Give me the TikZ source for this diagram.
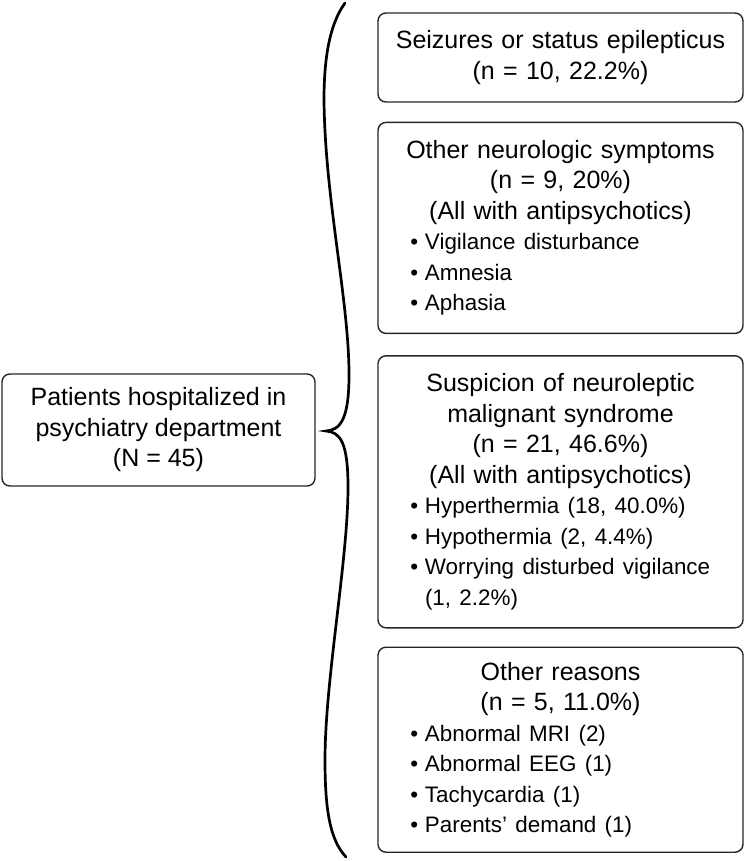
\documentclass[tikz,border=0pt]{standalone}
\usepackage{fontspec}
\setmainfont{Liberation Sans}
\usetikzlibrary{positioning}
\tikzset{
        box/.style = {draw=black!85, line width=1.4pt, rounded corners=8pt,
            inner xsep=0pt, inner ysep=0pt,
            font=\fontsize{25}{30.5}\selectfont},
        rbox/.style = {box, minimum width=365pt, text width=365pt},
        lbox/.style = {box, minimum width=313pt, minimum height=112pt,
            align=center},
        curly/.style = {draw, line width=2.7pt, line cap=round},
    }
\newcommand{\hdr}[1]{{\parindent=0pt\parskip=0pt\centering #1\par}}
\newcommand{\pts}[1]{{\fontsize{22.4}{30.5}\selectfont
    \parindent=0pt\parskip=0pt\raggedright\leftskip=47pt #1\par}}
\newcommand{\bul}{\par\noindent\llap{\textbullet\hspace{0.3em}}}

\begin{document}
\begin{tikzpicture}[x=1pt, y=1pt]
                \useasboundingbox (0,0) rectangle (746,-861);

                \node[rbox, minimum height=89pt] (seiz) at (560.5,-57.5)
                    {\hdr{Seizures or status epilepticus\\(n = 10, 22.2\%)}};
                \node[rbox, minimum height=211pt, below=19pt of seiz] (neuro)
                    {\hdr{Other neurologic symptoms\\(n = 9, 20\%)\\(All with antipsychotics)}
                     \pts{\bul Vigilance disturbance\bul Amnesia\bul Aphasia}};
                \node[rbox, minimum height=272pt, below=21pt of neuro] (nms)
                    {\hdr{Suspicion of neuroleptic\\malignant syndrome\\(n = 21, 46.6\%)\\(All with antipsychotics)}
                     \pts{\bul Hyperthermia (18, 40.0\%)\bul Hypothermia (2, 4.4\%)%
                          \bul Worrying disturbed vigilance\\(1, 2.2\%)}};
                \node[rbox, minimum height=205pt, below=18pt of nms] (other)
                    {\hdr{Other reasons\\(n = 5, 11.0\%)}
                     \pts{\bul Abnormal MRI (2)\bul Abnormal EEG (1)\bul Tachycardia (1)%
                          \bul Parents’ demand (1)}};

                \node[lbox] (pat) at (158.5,-430)
                    {Patients hospitalized in\\psychiatry department\\(N = 45)};

                % the brace
                \draw[curly] (345,-3) .. controls (329,-25) and (324,-60) .. (324,-100)
                      .. controls (325,-200) and (349,-300) .. (349,-375)
                      .. controls (349,-420) and (340,-430) .. (326,-431)
                      .. controls (340,-432) and (348,-442) .. (348,-487)
                      .. controls (348,-560) and (325,-680) .. (325,-760)
                      .. controls (325,-810) and (330,-840) .. (346,-857);
            \end{tikzpicture}
\end{document}
